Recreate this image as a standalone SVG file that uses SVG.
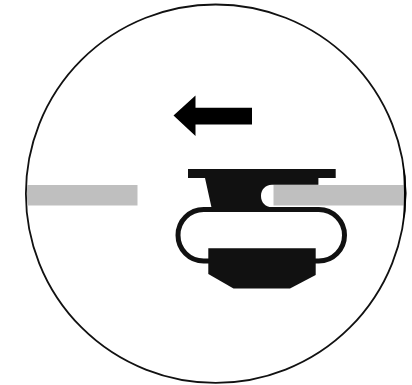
<svg xmlns="http://www.w3.org/2000/svg" width="412" height="385" viewBox="0 0 412 385">
<style>.k{fill:#111}.g{fill:#bfbfbf}</style>
<rect width="412" height="385" fill="#fff"/>
<g id="boundary"><ellipse cx="215.7" cy="193.7" rx="189.8" ry="189.2" fill="none" stroke="#111" stroke-width="1.8"/></g>
<g id="bar-left"><rect class="g" x="27" y="185" width="110.5" height="20.5"/></g>
<g id="bar-right"><rect class="g" x="273.5" y="185" width="130" height="20.5"/></g>
<g id="edge-thick"><path d="M402.6 160Q410 193 402.8 226Q405 193 402.6 160Z" fill="#000"/></g>
<g id="arrow"><path d="M173.5 115.5L195.5 95.5V107.8H252V124.5H195.5V136Z" fill="#000"/></g>
<g id="loop"><rect x="178" y="209.5" width="166.5" height="51.5" rx="25.7" fill="none" stroke="#111" stroke-width="5"/></g>
<g id="upper-part"><path class="k" d="M188 169H335.7V178H318.4V184.7H272C265 184.7 261 190 261 196C261 202 265 207 272 207.5L276 212H212.5L205 178H188Z"/></g>
<g id="lower-part"><path class="k" d="M208.3 248.3H315.7V275L290 288.5H233.5L208.3 274Z"/></g>
</svg>
